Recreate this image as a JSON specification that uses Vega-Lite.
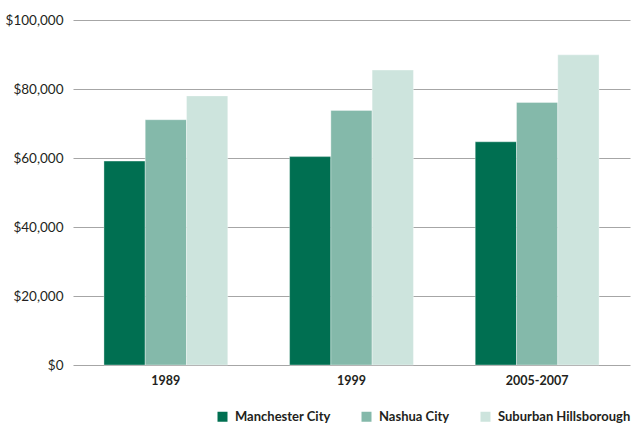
{
  "$schema": "https://vega.github.io/schema/vega-lite/v6.json",
  "width": 557,
  "height": 345,
  "autosize": "none",
  "padding": {"left": 73, "top": 20, "right": 1, "bottom": 58},
  "background": "white",
  "config": {
    "view": {"stroke": null},
    "font": "Lato"
  },
  "data": {
    "values": [
      {"year": "1989", "area": "Manchester City", "income": 59100},
      {"year": "1989", "area": "Nashua City", "income": 71100},
      {"year": "1989", "area": "Suburban Hillsborough", "income": 78000},
      {"year": "1999", "area": "Manchester City", "income": 60400},
      {"year": "1999", "area": "Nashua City", "income": 73800},
      {"year": "1999", "area": "Suburban Hillsborough", "income": 85500},
      {"year": "2005-2007", "area": "Manchester City", "income": 64700},
      {"year": "2005-2007", "area": "Nashua City", "income": 76100},
      {"year": "2005-2007", "area": "Suburban Hillsborough", "income": 89900}
    ]
  },
  "mark": {"type": "bar", "stroke": "white", "strokeWidth": 0.5, "strokeOpacity": 0.7},
  "encoding": {
    "x": {
      "field": "year",
      "type": "nominal",
      "sort": ["1989", "1999", "2005-2007"],
      "scale": {"paddingInner": 0.333, "paddingOuter": 0.1667},
      "axis": {
        "title": null,
        "domain": false,
        "ticks": false,
        "labelAngle": 0,
        "labelFontWeight": "bold",
        "labelFontSize": 12.5,
        "labelColor": "#231f20",
        "labelPadding": 9
      }
    },
    "xOffset": {
      "field": "area",
      "type": "nominal",
      "sort": ["Manchester City", "Nashua City", "Suburban Hillsborough"],
      "scale": {"paddingInner": 0, "paddingOuter": 0}
    },
    "y": {
      "field": "income",
      "type": "quantitative",
      "scale": {"domain": [0, 100000], "nice": false},
      "axis": {
        "title": null,
        "domain": false,
        "ticks": false,
        "values": [0, 20000, 40000, 60000, 80000, 100000],
        "format": "$,.0f",
        "labelFontSize": 13.5,
        "labelColor": "#231f20",
        "labelPadding": 10,
        "grid": true,
        "gridColor": "#a6a6a6",
        "gridWidth": 1.2
      }
    },
    "color": {
      "field": "area",
      "type": "nominal",
      "scale": {
        "domain": ["Manchester City", "Nashua City", "Suburban Hillsborough"],
        "range": ["#006f51", "#84b9aa", "#cde4dd"]
      },
      "legend": {
        "title": null,
        "orient": "none",
        "direction": "horizontal",
        "legendX": 143,
        "legendY": 390,
        "padding": 0,
        "symbolType": "square",
        "symbolSize": 100,
        "symbolStrokeWidth": 0,
        "symbolOpacity": 1,
        "labelFontSize": 13,
        "labelFontWeight": "bold",
        "labelColor": "#231f20",
        "labelOffset": 6,
        "columnPadding": 29,
        "labelLimit": 300
      }
    }
  }
}
